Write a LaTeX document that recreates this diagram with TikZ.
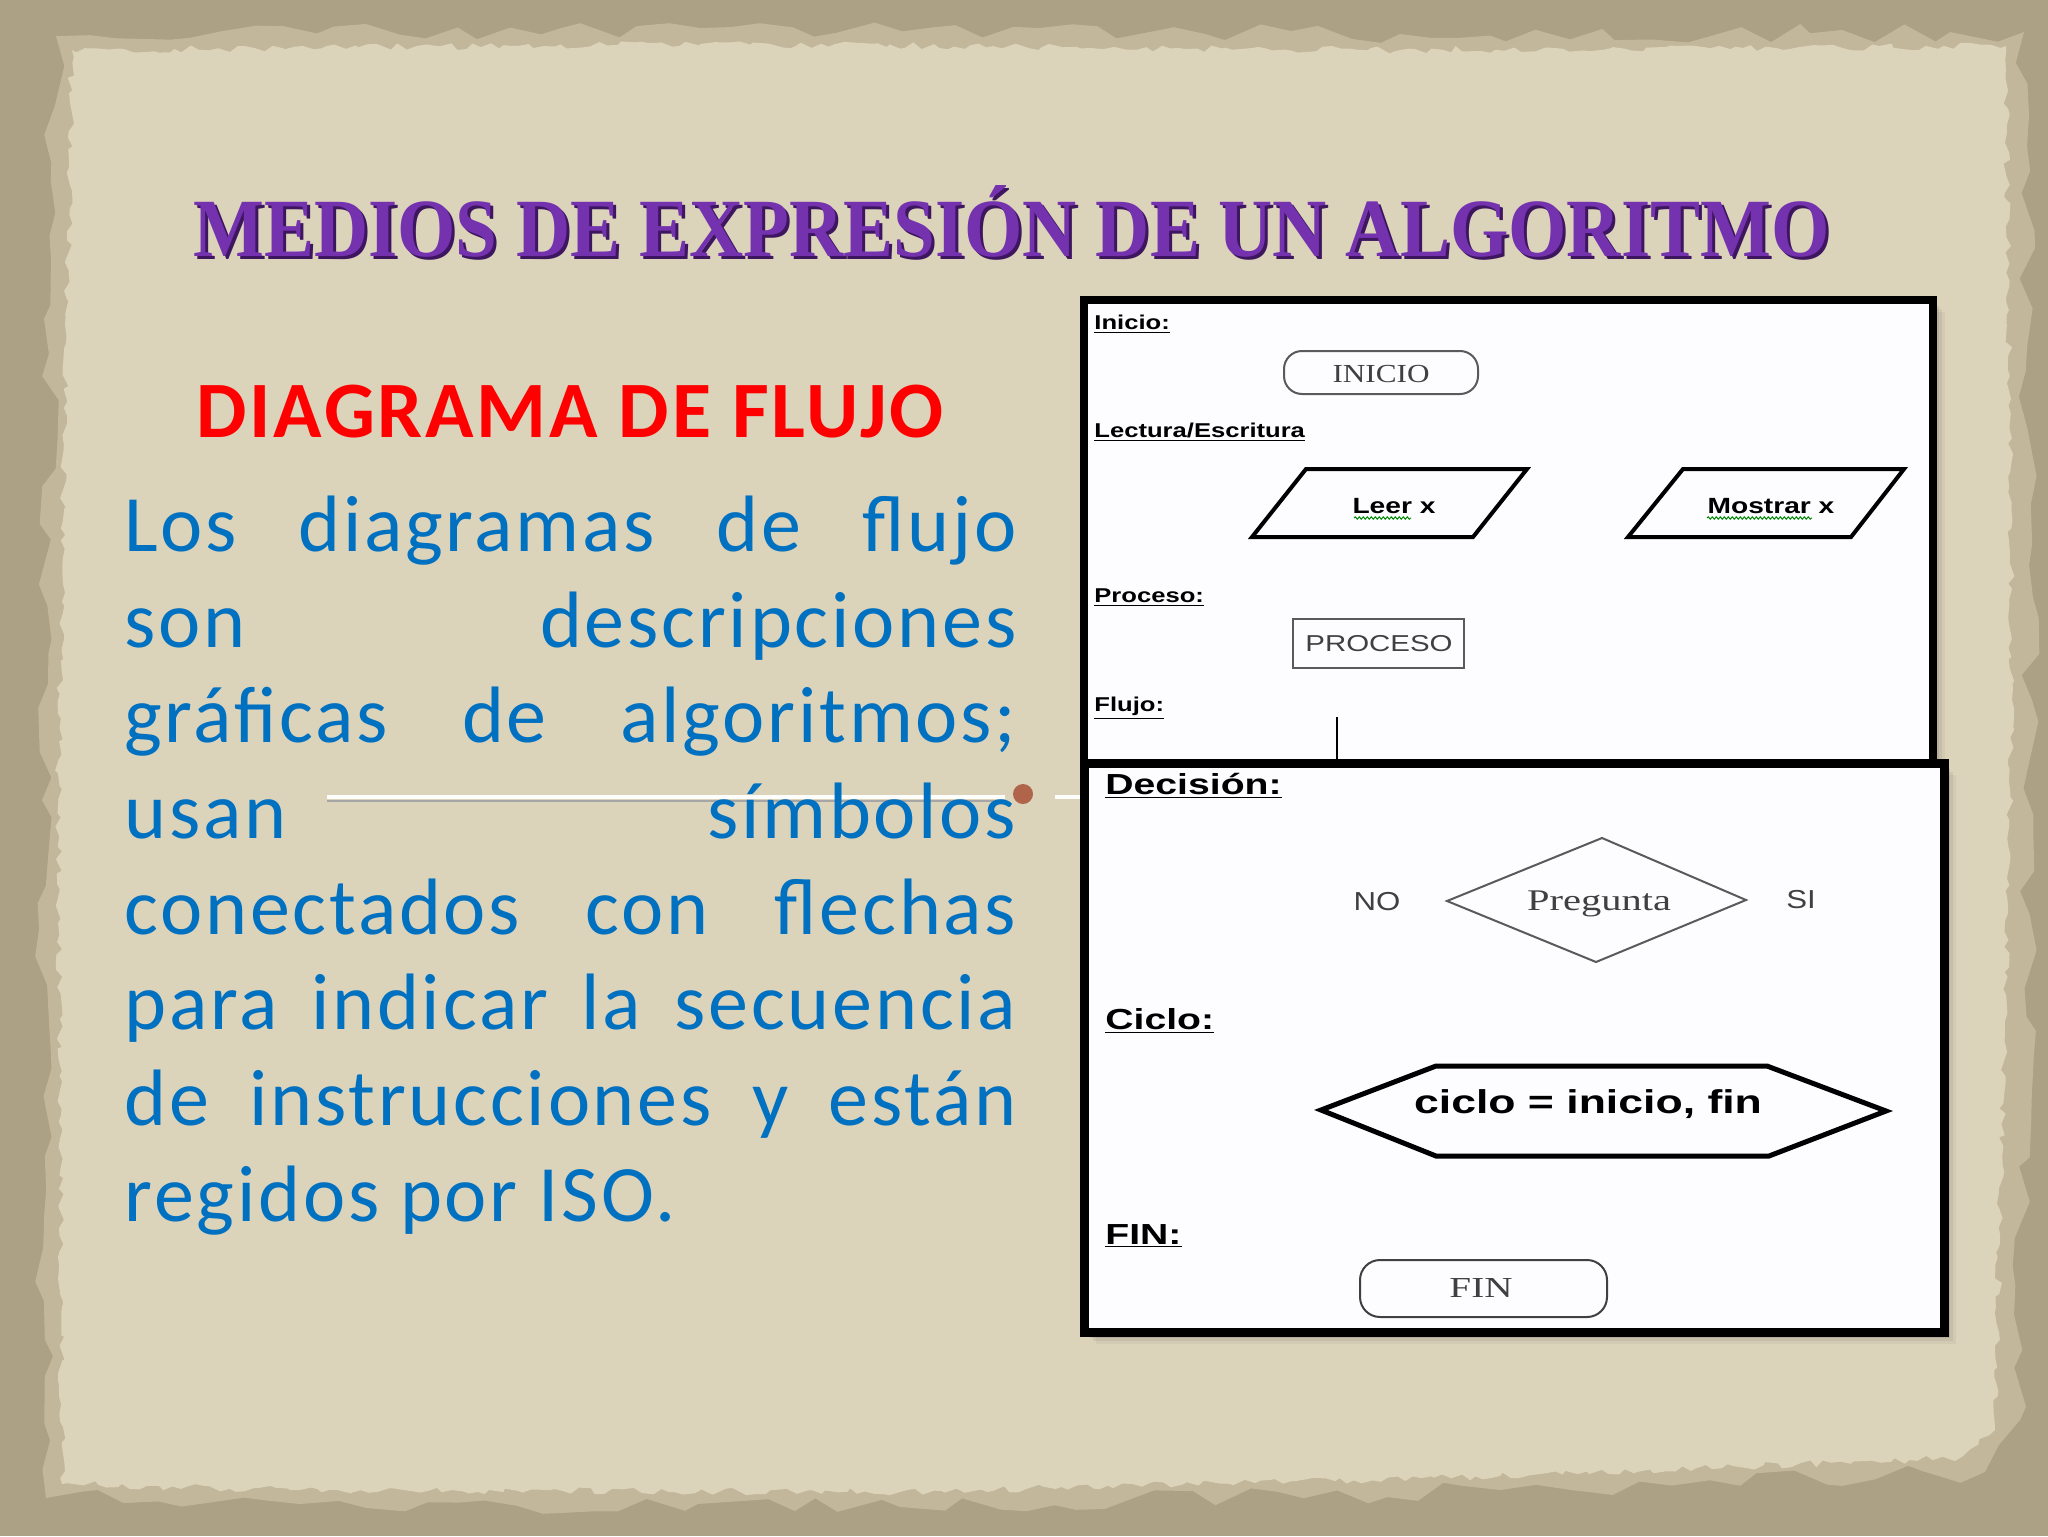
\documentclass[tikz,border=0pt]{standalone}
\usepackage{fontspec}
\usepackage{graphicx}
\usetikzlibrary{decorations.pathmorphing}
\setmainfont{Liberation Serif}
\newfontfamily\calfont[LetterSpace=3.5]{Carlito}
\newfontfamily\arsfont{Liberation Sans}
\newfontfamily\serfont{Liberation Serif}
\newcommand\hsc[2]{\scalebox{#1}[1]{#2}}
\definecolor{framec}{HTML}{ACA185}
\definecolor{edgec}{HTML}{C2B79B}
\definecolor{paperc}{HTML}{DCD3BB}
\definecolor{titlec}{HTML}{7432AE}
\definecolor{titlesh}{HTML}{3E1660}
\definecolor{bluec}{HTML}{0070C0}
\definecolor{redc}{HTML}{FF0000}
\definecolor{dotc}{HTML}{B0644A}
\definecolor{grayt}{HTML}{404040}
\definecolor{grayl}{HTML}{5A5A5A}
\definecolor{panelc}{HTML}{FDFCFF}
\tikzset{
  lbla/.style={anchor=base west, inner sep=0pt, font=\arsfont\bfseries\fontsize{10pt}{12pt}\selectfont},
  lblb/.style={anchor=base west, inner sep=0pt, font=\arsfont\bfseries\fontsize{14.5pt}{17pt}\selectfont},
  bodyline/.style={anchor=base west, inner sep=0pt, text=bluec, font=\calfont\fontsize{40pt}{48pt}\selectfont},
  thinshape/.style={draw=grayl, line width=1pt},
  thickshape/.style={draw=black, line width=2pt, line join=miter},
  panel/.style={draw=black, fill=panelc, line width=4pt},
  squig/.style={draw=green!55!black, line width=0.5pt, decorate, decoration={snake, segment length=2pt, amplitude=0.6pt}}
}
\begin{document}
\begin{tikzpicture}[x=0.5pt,y=-0.5pt]
\useasboundingbox (0,0) rectangle (2048,1536);
% background frame
\fill[framec] (0,0) rectangle (2048,1536);
\pgfmathsetseed{11}
\fill[edgec, decorate, decoration={random steps, segment length=14pt, amplitude=5pt}]
  (56,36) -- (700,28) -- (1400,34) -- (2024,32) -- (2032,700) -- (2020,1420) -- (1985,1472) -- (1500,1490) -- (900,1507) -- (300,1504) -- (46,1498) -- (42,800) -- cycle;
\fill[paperc, decorate, decoration={random steps, segment length=4pt, amplitude=1.8pt}]
  (72,50) -- (700,44) -- (1400,50) -- (2006,46) -- (2012,700) -- (1995,1430) -- (1960,1458) -- (1500,1476) -- (900,1492) -- (300,1490) -- (62,1484) -- (58,800) -- cycle;

% title
\node[anchor=base west, inner sep=0pt, text=titlesh] (titlesh) at (196,259)
  {\resizebox{818pt}{35.5pt}{\serfont\bfseries MEDIOS DE EXPRESI\'ON DE UN ALGORITMO}};
\node[anchor=base west, inner sep=0pt, text=titlec] (title) at (193,256)
  {\resizebox{818pt}{35.5pt}{\serfont\bfseries MEDIOS DE EXPRESI\'ON DE UN ALGORITMO}};

% separator line with dot
\coordinate (sepA) at (327,797);
\coordinate (sepB) at (1005,797);
\coordinate (sepC) at (1055,797);
\coordinate (sepD) at (1086,797);
\draw[line width=1pt, draw=black!35] ([yshift=-2]sepA) -- ([yshift=-2]sepB);
\draw[line width=1.6pt, draw=white!95!paperc] (sepA) -- (sepB);
\draw[line width=1.6pt, draw=white!95!paperc] (sepC) -- (sepD);
\node[circle, fill=dotc, minimum size=10pt, inner sep=0pt] (dot) at (1023,794) {};

% left text
\node[anchor=base west, inner sep=0pt, text=redc, font=\calfont\bfseries\fontsize{40pt}{48pt}\selectfont] (head) at (196,437) {DIAGRAMA DE FLUJO};
\node[bodyline] (l1) at (124,551) {\makebox[446pt][s]{Los diagramas de flujo}};
\node[bodyline] (l2) at (124,647) {\makebox[446pt][s]{son descripciones}};
\node[bodyline] (l3) at (124,742) {\makebox[446pt][s]{gráficas de algoritmos;}};
\node[bodyline] (l4) at (124,838) {\makebox[446pt][s]{usan símbolos}};
\node[bodyline] (l5) at (124,934) {\makebox[446pt][s]{conectados con flechas}};
\node[bodyline] (l6) at (124,1029) {\makebox[446pt][s]{para indicar la secuencia}};
\node[bodyline] (l7) at (124,1125) {\makebox[446pt][s]{de instrucciones y están}};
\node[bodyline] (l8) at (124,1221) {regidos por ISO.};

% panel shadows
\foreach \o/\a in {3/0.10,6/0.08,9/0.06,12/0.04}{
  \fill[black, opacity=\a] (1084+\o,300+\o) rectangle (1933+\o,763+\o);
  \fill[black, opacity=\a] (1084+\o,763+\o) rectangle (1944+\o,1332+\o);
}
% panel 1
\draw[panel] (1084,300) rectangle (1933,763);
\node[lbla] (inicioL) at (1094,329) {\hsc{1.28}{\underline{Inicio:}}};
\draw[thinshape, rounded corners=9pt] (1284,351) rectangle (1478,394);
\node[inner sep=0pt, text=grayt, font=\serfont\fontsize{13pt}{15pt}\selectfont] (inicio) at (1381,374) {\hsc{1.2}{INICIO}};
\node[lbla] (lectL) at (1094,437) {\hsc{1.28}{\underline{Lectura/Escritura}}};
\draw[thickshape] (1306,469) -- (1527,469) -- (1473,537) -- (1252,537) -- cycle;
\draw[thickshape] (1683,469) -- (1904,469) -- (1851,537) -- (1628,537) -- cycle;
\node[anchor=base, inner sep=0pt, font=\arsfont\bfseries\fontsize{11pt}{13pt}\selectfont] (leer) at (1394,513) {\hsc{1.28}{Leer x}};
\node[anchor=base, inner sep=0pt, font=\arsfont\bfseries\fontsize{11pt}{13pt}\selectfont] (mostrar) at (1771,513) {\hsc{1.28}{Mostrar x}};
\coordinate (sq1a) at (1354,518); \coordinate (sq1b) at (1411,518);
\coordinate (sq2a) at (1707,518); \coordinate (sq2b) at (1812,518);
\draw[squig] (sq1a) -- (sq1b);
\draw[squig] (sq2a) -- (sq2b);
\node[lbla] (procL) at (1094,602) {\hsc{1.28}{\underline{Proceso:}}};
\draw[thinshape] (1293,619) rectangle (1464,668);
\node[inner sep=0pt, text=grayt, font=\arsfont\fontsize{11.5pt}{13pt}\selectfont] (proceso) at (1379,644) {\hsc{1.28}{PROCESO}};
\node[lbla] (flujoL) at (1094,711) {\hsc{1.28}{\underline{Flujo:}}};
\coordinate (fl1) at (1337,717);
\coordinate (fl2) at (1337,763);
\draw[line width=1pt] (fl1) -- (fl2);

% panel 2
\draw[panel, line width=4.5pt] (1084,763) rectangle (1944,1332);
\node[lblb] (decL) at (1105,794) {\hsc{1.35}{\underline{Decisión:}}};
\draw[thinshape] (1602,838) -- (1746,900) -- (1596,962) -- (1447,901) -- cycle;
\node[anchor=base, inner sep=0pt, text=grayt, font=\serfont\fontsize{15pt}{17pt}\selectfont] (preg) at (1599,910) {\hsc{1.35}{Pregunta}};
\node[anchor=base, inner sep=0pt, text=grayt, font=\arsfont\fontsize{13pt}{15pt}\selectfont] (no) at (1377,910) {\hsc{1.2}{NO}};
\node[anchor=base, inner sep=0pt, text=grayt, font=\arsfont\fontsize{13pt}{15pt}\selectfont] (si) at (1801,908) {\hsc{1.2}{SI}};
\node[lblb] (cicL) at (1105,1029) {\hsc{1.35}{\underline{Ciclo:}}};
\draw[thickshape, line width=2.5pt] (1321,1110) -- (1436,1066) -- (1767,1066) -- (1886,1111) -- (1769,1156) -- (1436,1156) -- cycle;
\node[anchor=base, inner sep=0pt, font=\arsfont\bfseries\fontsize{16.5pt}{19pt}\selectfont] (ciclo) at (1588,1113) {\hsc{1.35}{ciclo = inicio, fin}};
\node[lblb] (finL) at (1105,1244) {\hsc{1.35}{\underline{FIN:}}};
\draw[thinshape, draw=black!75, rounded corners=10pt] (1360,1260) rectangle (1607,1317);
\node[anchor=base, inner sep=0pt, text=grayt, font=\serfont\fontsize{14.5pt}{17pt}\selectfont] (fin) at (1481,1297) {\hsc{1.35}{FIN}};
\end{tikzpicture}
\end{document}
